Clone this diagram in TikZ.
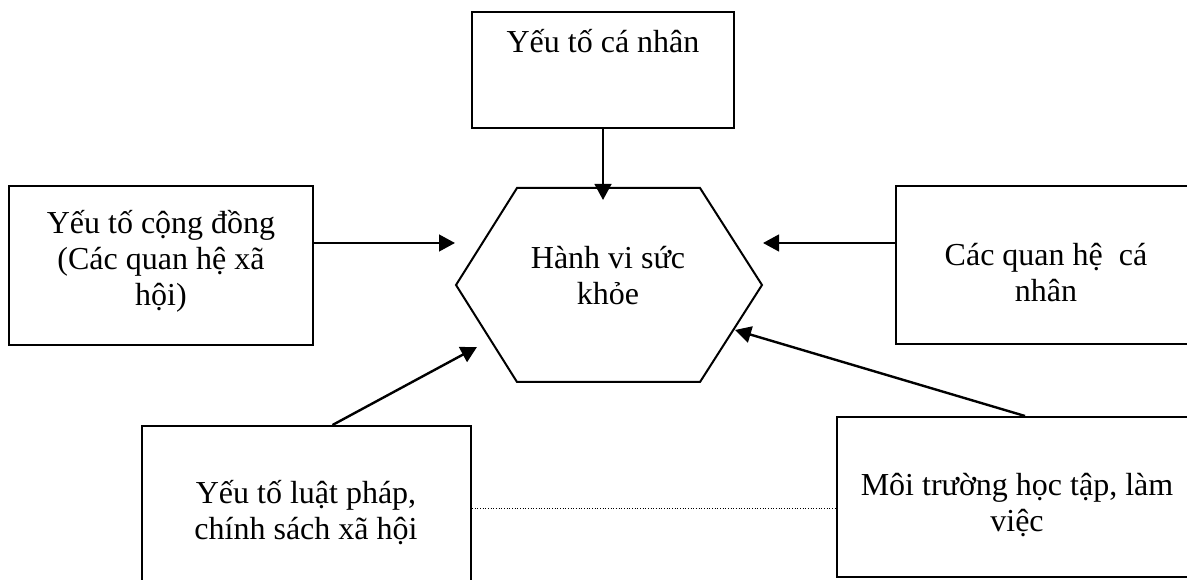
\documentclass[tikz,border=0pt]{standalone}
\usepackage{fontspec}
\setmainfont{Liberation Serif}
\usetikzlibrary{arrows.meta,calc}
\begin{document}
\begin{tikzpicture}[x=0.75pt,y=-0.75pt,
    box/.style={draw,line width=1.5pt,inner sep=0pt},
    txt/.style={align=center,font=\fontsize{24}{27}\selectfont},
    arr/.style={-{Triangle[length=12pt,width=12.5pt]},line width=1.8pt}]
  \useasboundingbox (0,0) rectangle (1187,580);
  \node[box,minimum width=196.5pt,minimum height=87pt] (pers) at (603,70) {};
  \node[box,minimum width=228pt,minimum height=119.25pt] (cmty) at (161,265.5) {};
  \node[box,minimum width=228pt,minimum height=118.5pt] (rel) at (1048,265) {};
  \node[box,minimum width=246.75pt,minimum height=123pt] (law) at (306.5,508) {};
  \node[box,minimum width=270pt,minimum height=120pt] (env) at (1017,497) {};
  \coordinate (hexL) at (456,285);
  \coordinate (hexTL) at (517,188);
  \coordinate (hexTR) at (700,188);
  \coordinate (hexR) at (762,285);
  \coordinate (hexBR) at (700,382);
  \coordinate (hexBL) at (517,382);
  \draw[line width=1.5pt] (hexL) -- (hexTL) -- (hexTR) -- (hexR) -- (hexBR) -- (hexBL) -- cycle;
  \node[txt,anchor=base] (perstxt) at (603,53) {Yếu tố cá nhân};
  \node[txt] (cmtytxt) at (161,261) {Yếu tố cộng đồng\\(Các quan hệ xã\\hội)};
  \node[txt] (hvtxt) at (608,276) {Hành vi sức\\khỏe};
  \node[txt] (reltxt) at (1046,273) {Các quan hệ\ \ cá\\nhân};
  \node[txt] (lawtxt) at (306,513) {Yếu tố luật pháp,\\chính sách xã hội};
  \node[txt] (envtxt) at (1017,505) {Môi trường học tập, làm\\việc};
  \coordinate (tipT) at (603,200);
  \coordinate (tipL) at (455,243);
  \coordinate (tipR) at (763,243);
  \coordinate (tipBL) at (477,347);
  \coordinate (tipBR) at (735,330);
  \draw[arr] (pers.south) -- (tipT);
  \draw[arr] (cmty.east |- tipL) -- (tipL);
  \draw[arr] (rel.west |- tipR) -- (tipR);
  \draw[arr] ($(law.north)+(26,0)$) -- (tipBL);
  \draw[arr] ($(env.north)+(8,0)$) -- (tipBR);
  \draw[line width=0.7pt,dash pattern=on 0.7pt off 1.3pt] (law.east) -- (law.east -| env.west);
\end{tikzpicture}
\end{document}
